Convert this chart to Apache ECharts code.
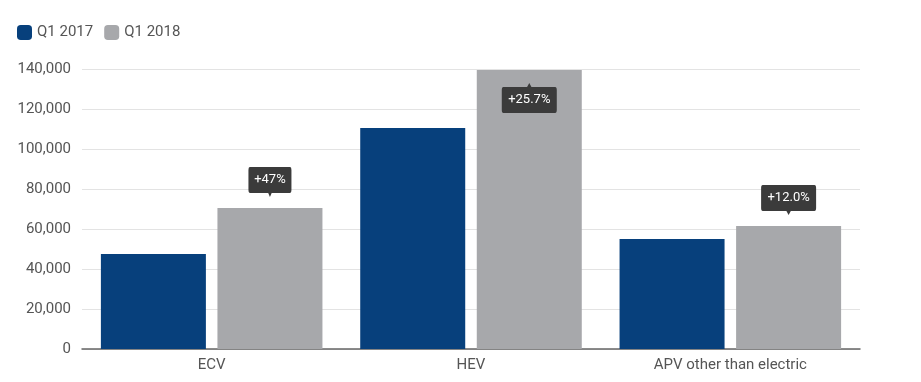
<!DOCTYPE html>
<html>
<head>
<meta charset="utf-8">
<script src="https://cdn.jsdelivr.net/npm/echarts@6/dist/echarts.min.js"></script>
<style>html,body{margin:0;padding:0;background:#fff;}#c{width:921px;height:382px;}</style>
</head>
<body>
<div id="c"></div>
<script>
const categories = ['ECV', 'HEV', 'APV other than electric'];
const q12017 = [47500, 110500, 55000];
const q12018 = [70500, 139500, 61500];
const changeLabels = ['+47%', '+25.7%', '+12.0%'];
const yTicks = [0, 20000, 40000, 60000, 80000, 100000, 120000, 140000];

const chart = echarts.init(document.getElementById('c'));
const font = 'Roboto, "Noto Sans", sans-serif';
const downPin = 'path://M3,0 H97 Q100,0 100,3 V23 Q100,26 97,26 H54 L50,30 L46,26 H3 Q0,26 0,23 V3 Q0,0 3,0 Z';
const upPin = 'path://M3,4 H46 L50,0 L54,4 H97 Q100,4 100,7 V27 Q100,30 97,30 H3 Q0,30 0,27 V7 Q0,4 3,4 Z';

const markData = categories.map((c, i) => {
  const inside = q12018[i] >= 135000;
  const w = changeLabels[i].length <= 4 ? 43 : 55;
  return {
    coord: [c, q12018[i]],
    value: changeLabels[i],
    symbol: inside ? upPin : downPin,
    symbolSize: [w, 30],
    symbolKeepAspect: false,
    symbolOffset: [0, inside ? 28 : -26],
    label: { offset: [0, inside ? 2 : -2] }
  };
});

chart.setOption({
  animation: false,
  textStyle: { fontFamily: font },
  legend: {
    left: 12, top: 20, itemWidth: 15, itemHeight: 15, itemGap: 11,
    icon: 'roundRect',
    textStyle: { color: '#555', fontSize: 15, fontFamily: font },
    data: ['Q1 2017', 'Q1 2018']
  },
  grid: { left: 82, right: 61, top: 69, bottom: 33, containLabel: false },
  xAxis: {
    type: 'category', data: categories,
    axisLine: { lineStyle: { color: '#666', width: 1.5 } },
    axisTick: { show: false },
    axisLabel: { color: '#555', fontSize: 15, margin: 9, fontFamily: font }
  },
  yAxis: {
    type: 'value', min: yTicks[0], max: yTicks[yTicks.length - 1], interval: 20000,
    axisLine: { show: false }, axisTick: { show: false },
    axisLabel: { color: '#555', fontSize: 15, margin: 11, fontFamily: font,
      formatter: v => v.toLocaleString('en-US') },
    splitLine: { lineStyle: { color: '#e3e3e3' } }
  },
  series: [
    { name: 'Q1 2017', type: 'bar', data: q12017, barWidth: 105, barGap: '11%',
      itemStyle: { color: '#07407c' } },
    { name: 'Q1 2018', type: 'bar', data: q12018, barWidth: 105,
      itemStyle: { color: '#a7a8ab' },
      markPoint: {
        itemStyle: { color: '#3b3b3b' },
        label: { show: true, color: '#fff', fontSize: 13, fontFamily: font,
          formatter: p => p.value },
        data: markData
      }
    }
  ]
});
</script>
</body>
</html>
